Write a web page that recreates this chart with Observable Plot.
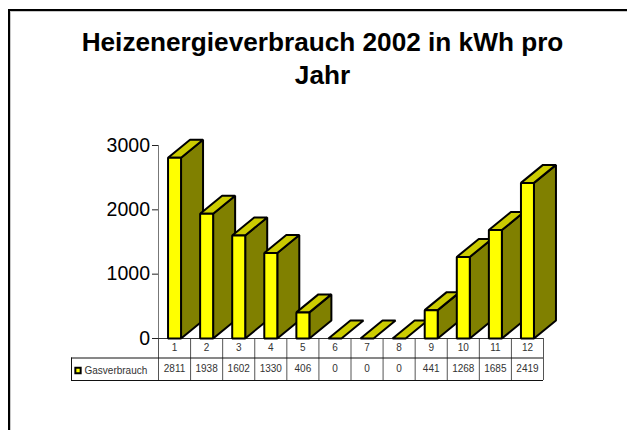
<!DOCTYPE html>
<html>
<head>
<meta charset="utf-8">
<script src="https://cdn.jsdelivr.net/npm/d3@7"></script>
<script src="https://cdn.jsdelivr.net/npm/@observablehq/plot@0.6"></script>
<style>
html,body{margin:0;padding:0;background:#fff;width:627px;height:430px;overflow:hidden}
#frame{position:absolute;left:8px;top:9px;right:0;bottom:0;border-top:2px solid #000;border-left:2px solid #000;box-shadow:inset 1px 1px 0 #c8c8c8}
#chart{position:absolute;left:0;top:0}
</style>
</head>
<body>
<div id="frame"></div>
<div id="chart"></div>
<script>
const chartTitle = "Heizenergieverbrauch 2002 in kWh pro\nJahr";
const seriesName = "Gasverbrauch";
const months = [1, 2, 3, 4, 5, 6, 7, 8, 9, 10, 11, 12];
const gas = [2811, 1938, 1602, 1330, 406, 0, 0, 0, 441, 1268, 1685, 2419];
const yTicks = [0, 1000, 2000, 3000];

const W = 627, H = 430;
const pLeft = 158, pRight = 543, pTop = 145, pBottom = 338;
const xPx = (pRight - pLeft) / 12;          // pixels per month
const yPx = (pBottom - pTop) / 3000;        // pixels per kWh
const halfBar = 6.5 / xPx;                  // half the front width, in months
const depthX = 22 / xPx, depthY = 18 / yPx; // 3-D offset, in data units
const row1 = -19.5 / yPx, row2 = -42 / yPx; // table rows, in data units
const firstCol = 0.5 - (pLeft - 71) / xPx;  // table's left edge, in months

const bars = months.map((m, i) => {
  const a = m - halfBar, b = m + halfBar, v = gas[i];
  return {
    m, v,
    front: [[a, 0], [b, 0], [b, v], [a, v]],
    side: [[b, 0], [b + depthX, depthY], [b + depthX, v + depthY], [b, v]],
    top: [[a, v], [b, v], [b + depthX, v + depthY], [a + depthX, v + depthY]]
  };
});

const face = (pts, fill) => Plot.line(pts, {
  x: d => d[0], y: d => d[1], fill, stroke: "#000", strokeWidth: 2,
  curve: "linear-closed", strokeLinejoin: "miter"
});

const boundaries = d3.range(13).map(i => i + 0.5);
const tableFont = {fontFamily: "Liberation Sans, Arial, sans-serif", fontSize: 10, fill: "#333"};

const plot = Plot.plot({
  width: W, height: H,
  marginLeft: pLeft, marginRight: W - pRight, marginTop: pTop, marginBottom: H - pBottom,
  style: {background: "transparent", overflow: "visible"},
  x: {domain: [0.5, 12.5], axis: null},
  y: {domain: [0, 3000], axis: null},
  marks: [
    // table grid
    Plot.ruleX(boundaries, {y1: 0, y2: row2, stroke: "#555", strokeWidth: 1}),
    Plot.ruleX([firstCol], {y1: row1, y2: row2, stroke: "#111", strokeWidth: 1}),
    Plot.ruleY([0], {x1: 0.5, x2: 12.5, stroke: "#333", strokeWidth: 1}),
    Plot.ruleY([row1, row2], {x1: firstCol, x2: 12.5, stroke: "#111", strokeWidth: 1}),
    // y axis
    Plot.ruleX([0.5], {y1: 0, y2: 3000, stroke: "#777", strokeWidth: 1}),
    Plot.ruleY(yTicks, {x1: 0.5, x2: 0.5 - 6 / xPx, stroke: "#222", strokeWidth: 1}),
    Plot.text(yTicks, {
      x: 0.5, y: d => d, text: d => String(d), textAnchor: "end", dx: -8.5, dy: 0,
      fontFamily: "Liberation Sans, Arial, sans-serif", fontSize: 19.5, fill: "#000"
    }),
    // bars, left to right
    ...bars.flatMap(b => b.v > 0
      ? [face(b.side, "#808000"), face(b.top, "#CCCC00"), face(b.front, "#FFFF00")]
      : [face(b.top, "#CCCC00")]),
    // table text
    Plot.text(months, {x: d => d, y: 0, dy: 9.5, text: d => String(d), ...tableFont}),
    Plot.text(bars, {x: "m", y: 0, dy: 30.5, text: d => String(d.v), ...tableFont}),
    Plot.text([seriesName], {
      x: firstCol, y: 0, dx: 13, dy: 32, text: d => d, textAnchor: "start", ...tableFont
    }),
    Plot.dot([seriesName], {
      x: firstCol, y: 0, dx: 6.5, dy: 32, symbol: "square", r: 3,
      fill: "#FFFF00", stroke: "#000", strokeWidth: 2
    }),
    // title
    Plot.text([chartTitle], {
      frameAnchor: "top", dy: 50 - pTop - 22.5, text: d => d, lineAnchor: "top", lineHeight: 1.26,
      dx: 322 - (pLeft + pRight) / 2,
      fontFamily: "Liberation Sans, Arial, sans-serif", fontSize: 26.2, fontWeight: "bold", fill: "#000"
    })
  ]
});
document.getElementById("chart").appendChild(plot);
</script>
</body>
</html>
